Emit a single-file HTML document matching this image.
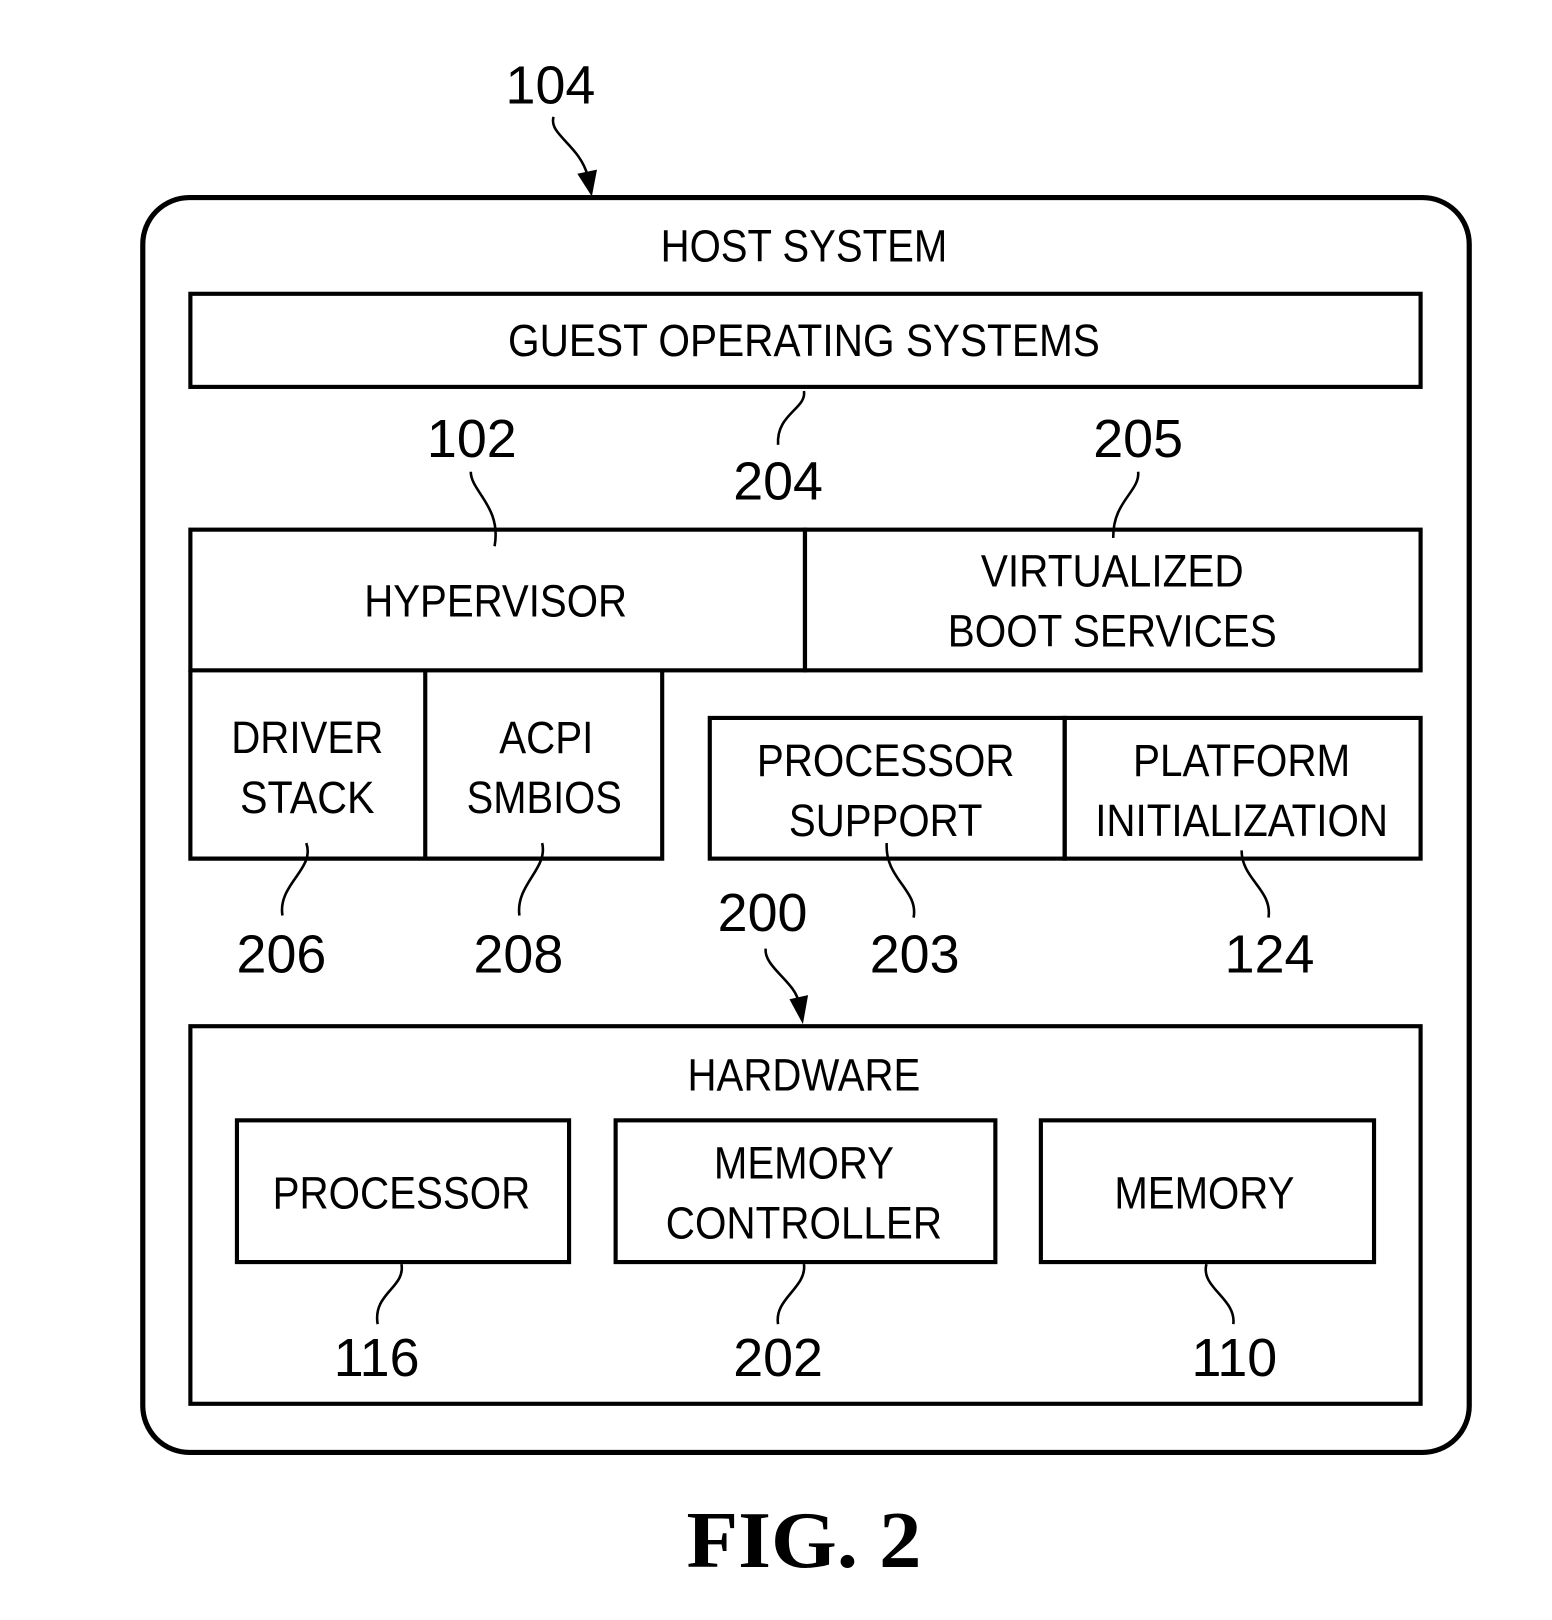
<!DOCTYPE html>
<html><head><style>html,body{margin:0;padding:0;background:#fff}svg{display:block}</style></head><body>
<svg width="1552" height="1620" viewBox="0 0 1500 1566" preserveAspectRatio="none" xmlns="http://www.w3.org/2000/svg" font-family="Liberation Sans, Arial, sans-serif">
<g fill="none" stroke="#000">
<rect x="138" y="191" width="1282" height="1213" rx="45" stroke-width="5"/>
<g stroke-width="4">
<rect x="184" y="284" width="1189" height="90"/>
<rect x="184" y="512" width="594" height="136"/>
<rect x="778" y="512" width="595" height="136"/>
<path d="M184 648 V830 H640 V648 M411 648 V830"/>
<rect x="686" y="694" width="343" height="136"/>
<rect x="1029" y="694" width="344" height="136"/>
<rect x="184" y="992" width="1189" height="365"/>
<rect x="229" y="1083" width="321" height="137"/>
<rect x="595" y="1083" width="367" height="137"/>
<rect x="1006" y="1083" width="322" height="137"/>
</g>
<g stroke-width="2.5">
<path d="M535 113 C530 130 560 140 568 170"/>
<path d="M777 378 C780 395 750 400 752 430"/>
<path d="M455 456 C455 475 485 490 478 528"/>
<path d="M1100 456 C1102 475 1075 485 1076 520"/>
<path d="M296 815 C305 840 268 855 273 885"/>
<path d="M524 815 C530 840 498 855 502 885"/>
<path d="M857 815 C855 850 888 860 883 887"/>
<path d="M1200 822 C1200 850 1230 860 1226 887"/>
<path d="M740 917 C738 935 770 950 772 970"/>
<path d="M388 1222 C392 1245 360 1250 365 1280"/>
<path d="M777 1222 C780 1245 748 1255 752 1280"/>
<path d="M1166 1222 C1160 1245 1195 1255 1192 1280"/>
</g>
</g>
<path d="M558 168 L572 190 L577 164 Z"/>
<path d="M763 966 L776 990 L781 962 Z"/>
<g font-size="44" text-anchor="middle" fill="#000" lengthAdjust="spacingAndGlyphs">
<text x="777" y="253" textLength="277" lengthAdjust="spacingAndGlyphs">HOST SYSTEM</text>
<text x="777" y="344" textLength="572" lengthAdjust="spacingAndGlyphs">GUEST OPERATING SYSTEMS</text>
<text x="479" y="596" textLength="254" lengthAdjust="spacingAndGlyphs">HYPERVISOR</text>
<text x="1075" y="567" textLength="254" lengthAdjust="spacingAndGlyphs">VIRTUALIZED</text>
<text x="1075" y="625" textLength="318" lengthAdjust="spacingAndGlyphs">BOOT SERVICES</text>
<text x="297" y="728" textLength="147" lengthAdjust="spacingAndGlyphs">DRIVER</text>
<text x="297" y="786" textLength="130" lengthAdjust="spacingAndGlyphs">STACK</text>
<text x="528" y="728" textLength="91" lengthAdjust="spacingAndGlyphs">ACPI</text>
<text x="526" y="786" textLength="150" lengthAdjust="spacingAndGlyphs">SMBIOS</text>
<text x="856" y="750" textLength="249" lengthAdjust="spacingAndGlyphs">PROCESSOR</text>
<text x="856" y="808" textLength="187" lengthAdjust="spacingAndGlyphs">SUPPORT</text>
<text x="1200" y="750" textLength="210" lengthAdjust="spacingAndGlyphs">PLATFORM</text>
<text x="1200" y="808" textLength="283" lengthAdjust="spacingAndGlyphs">INITIALIZATION</text>
<text x="777" y="1054" textLength="225" lengthAdjust="spacingAndGlyphs">HARDWARE</text>
<text x="388" y="1168" textLength="249" lengthAdjust="spacingAndGlyphs">PROCESSOR</text>
<text x="777" y="1139" textLength="174" lengthAdjust="spacingAndGlyphs">MEMORY</text>
<text x="777" y="1197" textLength="267" lengthAdjust="spacingAndGlyphs">CONTROLLER</text>
<text x="1164" y="1168" textLength="174" lengthAdjust="spacingAndGlyphs">MEMORY</text>
</g>
<g font-size="52" text-anchor="middle" fill="#000">
<text x="532" y="100">104</text>
<text x="456" y="442">102</text>
<text x="752" y="483">204</text>
<text x="1100" y="442">205</text>
<text x="272" y="940">206</text>
<text x="501" y="940">208</text>
<text x="737" y="900">200</text>
<text x="884" y="940">203</text>
<text x="1227" y="940">124</text>
<text x="364" y="1330">116</text>
<text x="752" y="1330">202</text>
<text x="1193" y="1330">110</text>
</g>
<text x="777" y="1515" font-family="Liberation Serif, serif" font-weight="bold" font-size="78" text-anchor="middle" textLength="227" lengthAdjust="spacingAndGlyphs">FIG. 2</text>
</svg>
</body></html>
